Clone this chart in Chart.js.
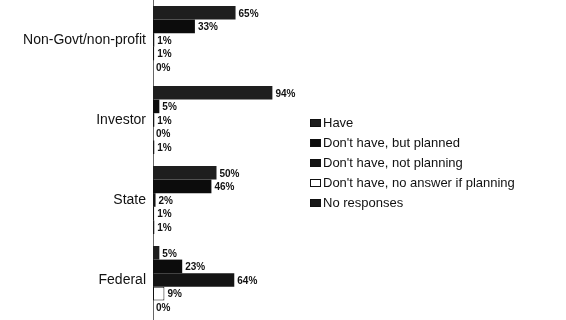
<!DOCTYPE html>
<html>
<head>
<meta charset="utf-8">
<script src="https://cdn.jsdelivr.net/npm/chart.js@4.4.1/dist/chart.umd.min.js"></script>
<style>
  body { margin: 0; background: #fff; }
  #wrap { position: relative; width: 566px; height: 320px; }
  #legend { position: absolute; left: 310px; top: 113px; font: 13px "Liberation Sans", Arial, sans-serif; color: #111; }
  #legend div { height: 20px; line-height: 20px; white-space: nowrap; }
  #legend span.box { display: inline-block; width: 11px; height: 8px; margin-right: 2px; box-sizing: border-box; vertical-align: 0px; }
</style>
</head>
<body>
<div id="wrap">
  <canvas id="chartAccess" width="566" height="320"></canvas>
  <div id="legend"></div>
</div>
<script>
var categories = ['Non-Govt/non-profit', 'Investor', 'State', 'Federal'];
var seriesNames = ['Have', "Don't have, but planned", "Don't have, not planning", "Don't have, no answer if planning", 'No responses'];
var have        = [65, 94, 50, 5];
var planned     = [33, 5, 46, 23];
var notPlanning = [1, 1, 2, 64];
var noAnswer    = [1, 0, 1, 9];
var noResponse  = [0, 1, 1, 0];
var seriesColors = ['#1e1e1e', '#0c0c0c', '#141414', '#ffffff', '#181818'];

var allSeries = [have, planned, notPlanning, noAnswer, noResponse];

// legend as html
var legendHtml = '';
for (var i = 0; i < seriesNames.length; i++) {
    legendHtml += '<div><span class="box" style="background:' + seriesColors[i] + ';border:1px solid #111"></span>' + seriesNames[i] + '</div>';
}
document.getElementById('legend').innerHTML = legendHtml;

// value labels next to the bars
var barLabels = {
    id: 'barLabels',
    afterDatasetsDraw: function(chart) {
        var ctx = chart.ctx;
        ctx.save();
        ctx.font = 'bold 10px "Liberation Sans", Arial, sans-serif';
        ctx.fillStyle = '#111';
        ctx.textBaseline = 'middle';
        chart.data.datasets.forEach(function(ds, di) {
            chart.getDatasetMeta(di).data.forEach(function(bar, j) {
                ctx.fillText(ds.data[j] + '%', bar.x + 3, bar.y + 1);
            });
        });
        ctx.restore();
    }
};

var datasets = [];
for (var k = 0; k < allSeries.length; k++) {
    datasets.push({
        label: seriesNames[k],
        data: allSeries[k],
        backgroundColor: seriesColors[k],
        borderColor: '#111',
        borderWidth: k == 3 ? 1 : 0,
        borderSkipped: false,
        categoryPercentage: 0.85,
        barPercentage: 1.0
    });
}

var ctx = document.getElementById('chartAccess');
var myChart = new Chart(ctx, {
    type: 'bar',
    data: { labels: categories, datasets: datasets },
    plugins: [barLabels],
    options: {
        indexAxis: 'y',
        responsive: false,
        animation: false,
        layout: { padding: { top: 0, bottom: 0, left: 0, right: 286 } },
        plugins: {
            legend: { display: false },
            tooltip: { enabled: false }
        },
        scales: {
            x: { display: false, min: 0, max: 100 },
            y: {
                // fixed axis width, no extra top/bottom room for labels
                afterFit: function(scale) {
                    scale.width = 153;
                    scale.paddingTop = 0;
                    scale.paddingBottom = 0;
                },
                grid: { display: false, drawTicks: false },
                border: { display: true, color: '#666', width: 1, dash: [2, 1] },
                ticks: {
                    padding: 7,
                    color: '#111',
                    font: { family: '"Liberation Sans", Arial, sans-serif', size: 14 }
                }
            }
        }
    }
});
</script>
</body>
</html>
